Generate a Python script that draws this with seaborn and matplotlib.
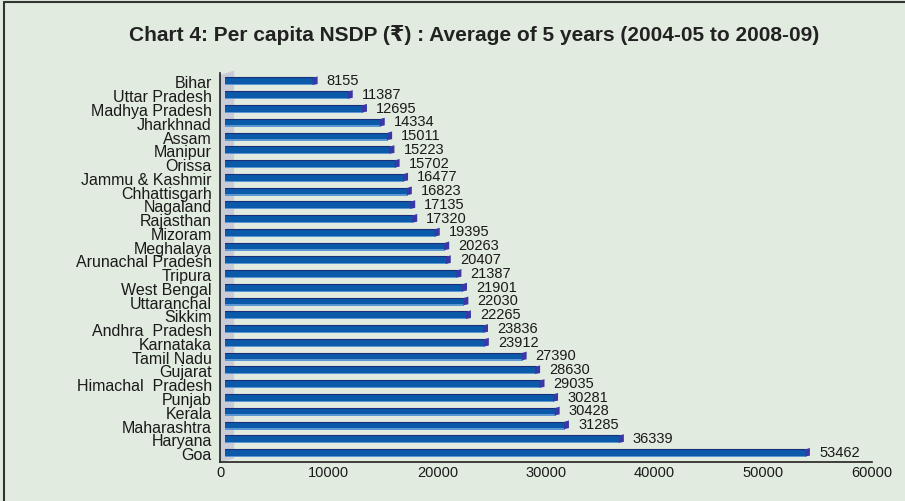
import matplotlib
matplotlib.use("Agg")
import matplotlib.pyplot as plt
import matplotlib.transforms as mtransforms
from matplotlib.patches import Polygon, Rectangle
import seaborn as sns
import pandas as pd

states = [
    "Bihar", "Uttar Pradesh", "Madhya Pradesh", "Jharkhnad", "Assam", "Manipur",
    "Orissa", "Jammu & Kashmir", "Chhattisgarh", "Nagaland", "Rajasthan", "Mizoram",
    "Meghalaya", "Arunachal Pradesh", "Tripura", "West Bengal", "Uttaranchal", "Sikkim",
    "Andhra  Pradesh", "Karnataka", "Tamil Nadu", "Gujarat", "Himachal  Pradesh",
    "Punjab", "Kerala", "Maharashtra", "Haryana", "Goa",
]
nsdp = [
    8155, 11387, 12695, 14334, 15011, 15223, 15702, 16477, 16823, 17135, 17320, 19395,
    20263, 20407, 21387, 21901, 22030, 22265, 23836, 23912, 27390, 28630, 29035,
    30281, 30428, 31285, 36339, 53462,
]
x_ticks = [0, 10000, 20000, 30000, 40000, 50000, 60000]
title = "Chart 4: Per capita NSDP (\u20b9) : Average of 5 years (2004-05 to 2008-09)"

df = pd.DataFrame({"state": states, "nsdp": nsdp})

BG = "#e2ebdf"
BAR = "#0b5aaa"
CAP = "#3a38a6"
WALL = "#c9cbd7"
INK = "#1a1a1a"

sns.set_theme(style="white")
plt.rcParams["font.family"] = ["Liberation Sans", "DejaVu Sans"]

fig = plt.figure(figsize=(9.05, 5.02), dpi=100, facecolor=BG)
ax = fig.add_axes([0.2431, 0.0777, 0.7204, 0.775])
ax.set_facecolor(BG)

sns.barplot(data=df, x="nsdp", y="state", orient="h", color=BAR, width=0.58,
            saturation=1, ax=ax, zorder=3)

n = len(states)
ax.set_xlim(0, 60000)
ax.set_ylim(n - 0.35, -0.62)

# grey side wall behind the bars
ax.add_patch(Polygon([(0, n - 0.35), (0, -0.45), (1300, -0.8), (1300, n - 0.6)],
                     closed=True, facecolor=WALL, edgecolor="none", zorder=1,
                     clip_on=False))

# 3D-style depth: bars pushed right by a few pixels
shift = mtransforms.ScaledTranslation(5 / 100, 0, fig.dpi_scale_trans)
bar_tf = ax.transData + shift
fig.canvas.draw()
for p, v in zip(ax.patches[:n], nsdp):
    p.set_transform(bar_tf)
    p.set_edgecolor("none")
    y0 = p.get_y()
    h = p.get_height()
    # lighter lower edge and dark top edge
    ax.add_patch(Rectangle((0, y0 + h * 0.84), v, h * 0.16, transform=bar_tf,
                           facecolor="#5b97d2", edgecolor="none", zorder=3.5))
    ax.plot([0, v], [y0, y0], transform=bar_tf, color="#1b2e7a", lw=0.8, zorder=3.6)
    # end cap as a small slanted face
    pts = ax.transData.transform([(v, y0 + h * 0.05), (v, y0 + h * 0.95)])
    x_px = pts[0][0] + 5
    fig.patches.append(Polygon([(x_px - 1, pts[0][1]), (x_px + 4, pts[0][1] + 1.5),
                                (x_px + 4, pts[1][1] + 1.0), (x_px - 1, pts[1][1])],
                               closed=True, transform=None, facecolor=CAP,
                               edgecolor="none", zorder=4))
    ax.annotate(f"{v}", xy=(v, y0 + h / 2), xycoords="data",
                xytext=(13, 1), textcoords="offset points", ha="left", va="center",
                fontsize=10.5, color=INK)

ax.set_xticks(x_ticks)
ax.set_xticklabels([str(t) for t in x_ticks], fontsize=10.5, color=INK)
ax.set_yticks(range(n))
ax.set_yticklabels(states, fontsize=11.5, color=INK)
ax.tick_params(axis="y", length=0, pad=6)
ax.set_yticks([i - 0.35 for i in range(n)], minor=True)
ax.tick_params(axis="y", which="minor", length=5, width=1, color="#222222",
               direction="out")
ax.tick_params(axis="x", length=5, width=1, color="#222222", direction="in", pad=2)
ax.set_xlabel("")
ax.set_ylabel("")
for side in ("top", "right"):
    ax.spines[side].set_visible(False)
for side in ("left", "bottom"):
    ax.spines[side].set_color("#222222")
    ax.spines[side].set_linewidth(1.2)

fig.text(0.524, 0.93, title, ha="center", va="center", fontsize=15,
         fontweight="bold", color="#222222")

# frame lines along the top and left of the figure
fig.add_artist(plt.Line2D([0.004, 1.0], [0.994, 0.994], color="#333333", lw=1.5))
fig.add_artist(plt.Line2D([0.004, 0.004], [0.0, 0.994], color="#333333", lw=1.5))

fig.savefig("out.png", dpi=100, facecolor=BG)
